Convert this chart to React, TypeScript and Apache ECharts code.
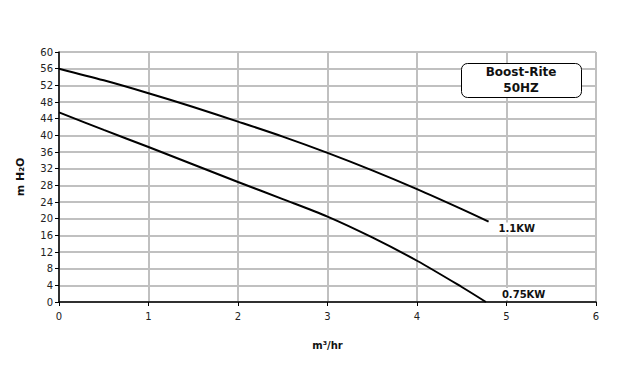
import React, { useEffect, useRef } from "react";
import * as echarts from "echarts";

const flowX = [0, 0.5, 1, 1.5, 2, 2.5, 3, 3.5, 4, 4.5, 4.8];
const head11kw = [56, 53.2, 50.1, 46.8, 43.3, 39.7, 35.8, 31.6, 27.1, 22.3, 19.3];
const flowX075 = [0, 0.5, 1, 1.5, 2, 2.5, 3, 3.5, 4, 4.5, 4.77];
const head075kw = [45.5, 41.3, 37.2, 33.0, 28.8, 24.7, 20.5, 15.5, 9.9, 3.6, 0];
const seriesNames = ["1.1KW", "0.75KW"];
const titleLines = ["Boost-Rite", "50HZ"];

export default function App() {
  const ref = useRef<HTMLDivElement>(null);
  useEffect(() => {
    if (!ref.current) return;
    const chart = echarts.init(ref.current, undefined, { renderer: "svg" });
    const font = "'DejaVu Sans', Verdana, sans-serif";
    const mk = (name: string, xs: number[], ys: number[], offset: number[]) => ({
      type: "line",
      name,
      data: xs.map((x, i) => [x, ys[i]]),
      smooth: 0.3,
      showSymbol: false,
      symbol: "none",
      lineStyle: { color: "#000", width: 2 },
      endLabel: {
        show: true,
        formatter: name,
        offset,
        fontFamily: font,
        fontWeight: "bold",
        fontSize: 10,
        color: "#111",
        backgroundColor: "#fff",
        padding: [1, 2],
      },
      z: 3,
    });
    chart.setOption({
      animation: false,
      backgroundColor: "#fff",
      grid: {
        left: 59,
        right: 24,
        top: 52,
        bottom: 85,
        show: true,
        borderColor: "#000",
        borderWidth: 1,
        containLabel: false,
      },
      xAxis: {
        type: "value",
        min: 0,
        max: 6,
        interval: 1,
        name: "m³/hr",
        nameLocation: "middle",
        nameGap: 38,
        nameTextStyle: { fontFamily: font, fontWeight: "bold", fontSize: 10, color: "#111" },
        axisLine: { show: true, onZero: false, lineStyle: { color: "#000", width: 1.5 } },
        axisTick: { show: true, length: 4, lineStyle: { color: "#000" } },
        axisLabel: { fontFamily: font, fontSize: 10, color: "#222", margin: 9 },
        splitLine: { show: true, lineStyle: { color: "#c0c0c0", width: 2 } },
      },
      yAxis: {
        type: "value",
        min: 0,
        max: 60,
        interval: 4,
        name: "m H₂O",
        nameLocation: "middle",
        nameRotate: 90,
        nameGap: 33,
        nameTextStyle: { fontFamily: font, fontWeight: "bold", fontSize: 11, color: "#111" },
        axisLine: { show: true, lineStyle: { color: "#000", width: 1.5 } },
        axisTick: { show: true, length: 4, lineStyle: { color: "#000" } },
        axisLabel: { fontFamily: font, fontSize: 10, color: "#222", margin: 6 },
        splitLine: { show: true, lineStyle: { color: "#c0c0c0", width: 2 } },
      },
      series: [
        mk(seriesNames[0], flowX, head11kw, [0, 7]),
        mk(seriesNames[1], flowX075, head075kw, [6, -8]),
      ],
      graphic: [
        {
          type: "rect",
          left: 461,
          top: 63,
          shape: { width: 120, height: 34, r: 6 },
          style: { fill: "#fff", stroke: "#000", lineWidth: 1 },
          z: 10,
        },
        {
          type: "text",
          x: 521,
          y: 80,
          style: {
            text: titleLines.join("\n"),
            fontFamily: font,
            fontWeight: "bold",
            fontSize: 12,
            lineHeight: 16,
            fill: "#111",
            align: "center",
            verticalAlign: "middle",
          },
          z: 11,
        },
      ],
    });
    return () => chart.dispose();
  }, []);
  return (
    <div
      ref={ref}
      style={{ position: "fixed", left: 0, top: 0, width: 620, height: 387, background: "#fff" }}
    />
  );
}
